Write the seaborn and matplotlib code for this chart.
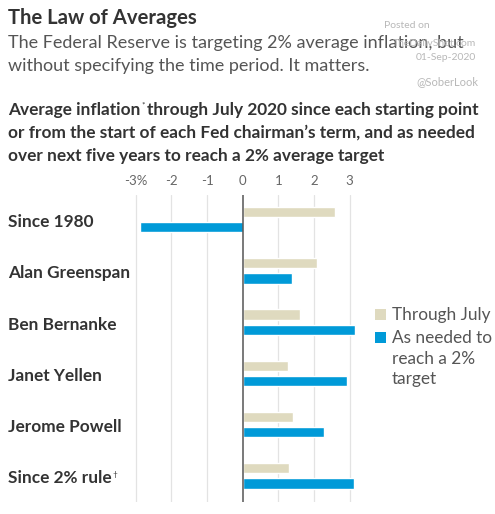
import matplotlib
matplotlib.use("Agg")
import matplotlib.pyplot as plt
from matplotlib.patches import Rectangle
import seaborn as sns
import pandas as pd

categories = ["Since 1980", "Alan Greenspan", "Ben Bernanke", "Janet Yellen",
              "Jerome Powell", "Since 2% rule"]
through_july = [2.6, 2.09, 1.6, 1.28, 1.41, 1.31]
as_needed = [-2.88, 1.37, 3.15, 2.93, 2.28, 3.13]
series_names = ["Through July", "As needed to\nreach a 2%\ntarget"]
tick_values = [-3, -2, -1, 0, 1, 2, 3]
tick_labels = ["-3%", "-2", "-1", "0", "1", "2", "3"]

TAN = "#dfdabf"
BLUE = "#009ad8"
DARK = "#333333"
GRAY = "#666666"

df = pd.DataFrame({
    "category": categories * 2,
    "value": through_july + as_needed,
    "series": [series_names[0]] * len(categories) + [series_names[1]] * len(categories),
})

sns.set_theme(style="white")
plt.rcParams["font.family"] = ["Lato", "DejaVu Sans"]

W, H = 495, 514
fig = plt.figure(figsize=(W / 100, H / 100), dpi=100)
ax = fig.add_axes([0.2636, 0.0233, 0.4788, 0.5973])

sns.barplot(data=df, y="category", x="value", hue="series", orient="h",
            palette=[TAN, BLUE], width=0.6, gap=0.33, ax=ax, legend=False,
            saturation=1, order=categories, hue_order=series_names)

ax.set_xlim(-3.15, 3.5)
ax.set_ylim(5.51, -0.48)
for v in tick_values:
    if v == 0:
        ax.axvline(v, color="#555555", lw=1.1, zorder=3)
    else:
        ax.axvline(v, color="#e3e3e3", lw=0.9, zorder=0)
ax.set_xticks(tick_values)
ax.set_xticklabels(tick_labels)
ax.xaxis.tick_top()
ax.tick_params(axis="x", length=0, pad=6, labelsize=9.5, labelcolor=GRAY)
ax.set_yticks([])
ax.set_xlabel("")
ax.set_ylabel("")
for s in ax.spines.values():
    s.set_visible(False)

ytr = ax.get_yaxis_transform()
xl = (8 - 130.5) / 237.0
label_objs = []
for i, c in enumerate(categories):
    t = ax.text(xl, i + 0.05, c, transform=ytr, ha="left", va="center",
                fontsize=12.4, fontweight="bold", color=DARK)
    label_objs.append(t)

def fx(px):
    return px / W

def fy(py):
    return 1 - py / H

# Titles
fig.text(fx(8), fy(18), "The Law of Averages", fontsize=14.6,
         fontweight="bold", color=DARK, ha="left", va="center")
fig.text(fx(8), fy(43), "The Federal Reserve is targeting 2% average inflation, but",
         fontsize=13, color="#555555", ha="left", va="center")
fig.text(fx(8), fy(66), "without specifying the time period. It matters.",
         fontsize=13, color="#555555", ha="left", va="center")
HS = 12.4
h1 = fig.text(fx(8), fy(110), "Average inflation",
              fontsize=HS, fontweight="bold", color=DARK, ha="left", va="center")
fig.text(fx(8), fy(133), "or from the start of each Fed chairman\u2019s term, and as needed",
         fontsize=HS, fontweight="bold", color=DARK, ha="left", va="center")
fig.text(fx(8), fy(156), "over next five years to reach a 2% average target",
         fontsize=HS, fontweight="bold", color=DARK, ha="left", va="center")

# watermark
wm = "#b8b8b8"
fig.text(fx(407), fy(26), "Posted on", fontsize=7.5, color=wm, ha="center", va="center")
fig.text(fx(476), fy(43), "TheDailyShot.com", fontsize=7.5, color=wm, ha="right", va="center")
fig.text(fx(476), fy(58), "01-Sep-2020", fontsize=7.5, color=wm, ha="right", va="center")
fig.text(fx(478), fy(82), "@SoberLook", fontsize=8, color=wm, ha="right", va="center")

fig.canvas.draw()
r = fig.canvas.get_renderer()
bb = h1.get_window_extent(r)
star = fig.text(bb.x1 / W + fx(1), fy(105), "*", fontsize=6, color=DARK,
                ha="left", va="center")
bbs = star.get_window_extent(r)
fig.text(bbs.x1 / W + fx(2), fy(110),
         "through July 2020 since each starting point",
         fontsize=HS, fontweight="bold", color=DARK, ha="left", va="center")
bl = label_objs[-1].get_window_extent(r)
fig.text(bl.x1 / W + fx(1), bl.y1 / H - 4 / H, "\u2020",
         fontsize=6, color=DARK, ha="left", va="center")

# legend
LEG = "#555555"
fig.add_artist(Rectangle((fx(375), fy(320)), 11 / W, 11 / H, transform=fig.transFigure,
                         facecolor=TAN, edgecolor="none"))
fig.add_artist(Rectangle((fx(375), fy(343)), 11 / W, 11 / H, transform=fig.transFigure,
                         facecolor=BLUE, edgecolor="none"))
fig.text(fx(392), fy(315), series_names[0], fontsize=12.4, color=LEG, ha="left", va="center")
for j, line in enumerate(series_names[1].split("\n")):
    fig.text(fx(392), fy(338 + 20.5 * j), line, fontsize=12.4, color=LEG,
             ha="left", va="center")

fig.savefig("out.png", dpi=100, facecolor="white")
